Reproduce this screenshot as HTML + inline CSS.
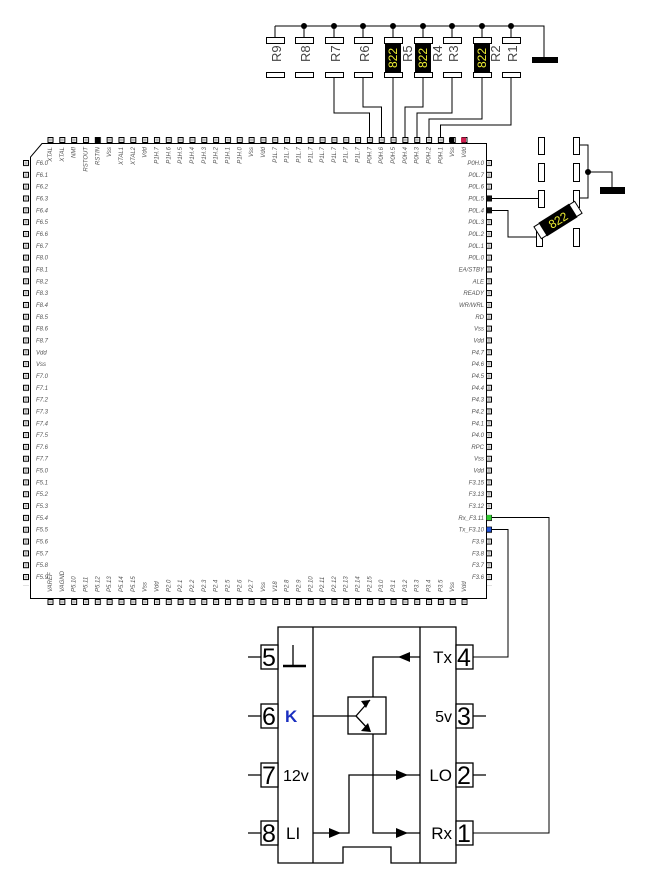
<!DOCTYPE html>
<html><head><meta charset="utf-8"><style>
html,body{margin:0;padding:0;background:#fff;}
svg{display:block;}
.l{font-family:"Liberation Sans",sans-serif;font-size:6px;font-style:italic;fill:#555;}
.big{font-family:"Liberation Sans",sans-serif;font-size:25px;fill:#000;}
.md{font-family:"Liberation Sans",sans-serif;font-size:17px;fill:#000;}
.rl{font-family:"Liberation Sans",sans-serif;font-size:13px;fill:#444;}
.y{font-family:"Liberation Sans",sans-serif;font-size:12px;fill:#ee3;}
</style></head><body>
<svg width="647" height="886" viewBox="0 0 647 886" xmlns="http://www.w3.org/2000/svg">
<defs>
<pattern id="pt" patternUnits="userSpaceOnUse" x="47.5" y="137" width="11.83" height="6"><rect x="0.5" y="0.5" width="5" height="5" fill="#fff" stroke="#000" stroke-width="1"/><rect x="1.5" y="1.5" width="3" height="3" fill="#bbb"/></pattern>
<pattern id="pb" patternUnits="userSpaceOnUse" x="47.5" y="599" width="11.83" height="6"><rect x="0.5" y="0.5" width="5" height="5" fill="#fff" stroke="#000" stroke-width="1"/><rect x="1.5" y="1.5" width="3" height="3" fill="#bbb"/></pattern>
<pattern id="pl" patternUnits="userSpaceOnUse" x="23" y="160" width="6" height="11.83"><rect x="0.5" y="0.5" width="5" height="5" fill="#fff" stroke="#000" stroke-width="1"/><rect x="1.5" y="1.5" width="3" height="3" fill="#bbb"/></pattern>
<pattern id="pr" patternUnits="userSpaceOnUse" x="486" y="160" width="6" height="11.83"><rect x="0.5" y="0.5" width="5" height="5" fill="#fff" stroke="#000" stroke-width="1"/><rect x="1.5" y="1.5" width="3" height="3" fill="#bbb"/></pattern>
</defs>
<g fill="none" stroke="#000" stroke-width="1">
<path d="M275 26 H544 V58"/>
</g>
<rect x="532" y="57" width="26" height="6" fill="#000"/>
<g fill="#000">
<circle cx="304" cy="26" r="3"/><circle cx="334" cy="26" r="3"/><circle cx="363" cy="26" r="3"/><circle cx="393" cy="26" r="3"/><circle cx="423" cy="26" r="3"/><circle cx="452" cy="26" r="3"/><circle cx="482" cy="26" r="3"/><circle cx="511" cy="26" r="3"/>
</g>
<g fill="none" stroke="#000">
<path d="M275 26V37M304 26V37M334 26V37M363 26V37M393 26V37M423 26V37M452 26V37M482 26V37M511 26V37"/>
</g>
<g fill="#000"><rect x="385" y="37" width="16" height="40"/><rect x="415" y="37" width="16" height="40"/><rect x="474" y="37" width="16" height="40"/></g>
<g fill="#fff" stroke="#000">
<rect x="266.5" y="37.5" width="18" height="6"/><rect x="295.5" y="37.5" width="18" height="6"/><rect x="325.5" y="37.5" width="18" height="6"/><rect x="354.5" y="37.5" width="18" height="6"/><rect x="384.5" y="37.5" width="18" height="6"/><rect x="414.5" y="37.5" width="18" height="6"/><rect x="443.5" y="37.5" width="18" height="6"/><rect x="473.5" y="37.5" width="18" height="6"/><rect x="502.5" y="37.5" width="18" height="6"/>
<rect x="266.5" y="72.5" width="18" height="5"/><rect x="295.5" y="72.5" width="18" height="5"/><rect x="325.5" y="72.5" width="18" height="5"/><rect x="354.5" y="72.5" width="18" height="5"/><rect x="384.5" y="72.5" width="18" height="5"/><rect x="414.5" y="72.5" width="18" height="5"/><rect x="443.5" y="72.5" width="18" height="5"/><rect x="473.5" y="72.5" width="18" height="5"/><rect x="502.5" y="72.5" width="18" height="5"/>
</g>
<g class="rl">
<text transform="translate(281,62) rotate(-90)">R9</text>
<text transform="translate(310,62) rotate(-90)">R8</text>
<text transform="translate(340,62) rotate(-90)">R7</text>
<text transform="translate(369,62) rotate(-90)">R6</text>
<text transform="translate(412,62) rotate(-90)">R5</text>
<text transform="translate(442,62) rotate(-90)">R4</text>
<text transform="translate(458,62) rotate(-90)">R3</text>
<text transform="translate(500,62) rotate(-90)">R2</text>
<text transform="translate(517,62) rotate(-90)">R1</text>
</g>
<g class="y">
<text transform="translate(397,68) rotate(-90)">822</text>
<text transform="translate(427,68) rotate(-90)">822</text>
<text transform="translate(486,68) rotate(-90)">822</text>
</g>
<g fill="none" stroke="#000">
<path d="M334 78V113H369.5V137"/>
<path d="M363 78V107H381.5V137"/>
<path d="M393 78V137"/>
<path d="M423 78V107H405V137"/>
<path d="M452 78V113H417V137"/>
<path d="M482 78V119H429V137"/>
<path d="M511 78V125H440.5V137"/>
</g>
<path d="M42 143.5H486.5V598.5H30.5V157Z" fill="none" stroke="#000"/>
<rect x="47.5" y="137" width="420" height="6" fill="url(#pt)"/>
<rect x="47.5" y="599" width="420" height="6" fill="url(#pb)"/>
<rect x="23" y="160" width="6" height="426" fill="url(#pl)"/>
<rect x="486" y="160" width="6" height="426" fill="url(#pr)"/>
<rect x="95" y="137.5" width="5" height="5" fill="#000"/>
<rect x="449" y="137.5" width="5" height="5" fill="#000"/>
<rect x="461" y="137.5" width="5" height="5" fill="#d02050"/>
<rect x="486.5" y="196" width="5" height="5" fill="#111"/>
<rect x="486.5" y="208" width="5" height="5" fill="#111"/>
<rect x="486.5" y="515" width="5" height="5" fill="#3c3"/>
<rect x="486.5" y="527" width="5" height="5" fill="#2255dd" stroke="#000" stroke-width="0.5"/>
<text class="l" x="36" y="165"><tspan x="36" dy="0">F6.0</tspan><tspan x="36" dy="11.83">F6.1</tspan><tspan x="36" dy="11.83">F6.2</tspan><tspan x="36" dy="11.83">F6.3</tspan><tspan x="36" dy="11.83">F6.4</tspan><tspan x="36" dy="11.83">F6.5</tspan><tspan x="36" dy="11.83">F6.6</tspan><tspan x="36" dy="11.83">F6.7</tspan><tspan x="36" dy="11.83">F8.0</tspan><tspan x="36" dy="11.83">F8.1</tspan><tspan x="36" dy="11.83">F8.2</tspan><tspan x="36" dy="11.83">F8.3</tspan><tspan x="36" dy="11.83">F8.4</tspan><tspan x="36" dy="11.83">F8.5</tspan><tspan x="36" dy="11.83">F8.6</tspan><tspan x="36" dy="11.83">F8.7</tspan><tspan x="36" dy="11.83">Vdd</tspan><tspan x="36" dy="11.83">Vss</tspan><tspan x="36" dy="11.83">F7.0</tspan><tspan x="36" dy="11.83">F7.1</tspan><tspan x="36" dy="11.83">F7.2</tspan><tspan x="36" dy="11.83">F7.3</tspan><tspan x="36" dy="11.83">F7.4</tspan><tspan x="36" dy="11.83">F7.5</tspan><tspan x="36" dy="11.83">F7.6</tspan><tspan x="36" dy="11.83">F7.7</tspan><tspan x="36" dy="11.83">F5.0</tspan><tspan x="36" dy="11.83">F5.1</tspan><tspan x="36" dy="11.83">F5.2</tspan><tspan x="36" dy="11.83">F5.3</tspan><tspan x="36" dy="11.83">F5.4</tspan><tspan x="36" dy="11.83">F5.5</tspan><tspan x="36" dy="11.83">F5.6</tspan><tspan x="36" dy="11.83">F5.7</tspan><tspan x="36" dy="11.83">F5.8</tspan><tspan x="36" dy="11.83">F5.9</tspan></text>
<text class="l" x="484" y="165" text-anchor="end"><tspan x="484" dy="0">P0H.0</tspan><tspan x="484" dy="11.83">P0L.7</tspan><tspan x="484" dy="11.83">P0L.6</tspan><tspan x="484" dy="11.83">P0L.5</tspan><tspan x="484" dy="11.83">P0L.4</tspan><tspan x="484" dy="11.83">P0L.3</tspan><tspan x="484" dy="11.83">P0L.2</tspan><tspan x="484" dy="11.83">P0L.1</tspan><tspan x="484" dy="11.83">P0L.0</tspan><tspan x="484" dy="11.83">EA/STBY</tspan><tspan x="484" dy="11.83">ALE</tspan><tspan x="484" dy="11.83">READY</tspan><tspan x="484" dy="11.83">WR/WRL</tspan><tspan x="484" dy="11.83">RD</tspan><tspan x="484" dy="11.83">Vss</tspan><tspan x="484" dy="11.83">Vdd</tspan><tspan x="484" dy="11.83">P4.7</tspan><tspan x="484" dy="11.83">P4.6</tspan><tspan x="484" dy="11.83">P4.5</tspan><tspan x="484" dy="11.83">P4.4</tspan><tspan x="484" dy="11.83">P4.3</tspan><tspan x="484" dy="11.83">P4.2</tspan><tspan x="484" dy="11.83">P4.1</tspan><tspan x="484" dy="11.83">P4.0</tspan><tspan x="484" dy="11.83">RPC</tspan><tspan x="484" dy="11.83">Vss</tspan><tspan x="484" dy="11.83">Vdd</tspan><tspan x="484" dy="11.83">F3.15</tspan><tspan x="484" dy="11.83">F3.13</tspan><tspan x="484" dy="11.83">F3.12</tspan><tspan x="484" dy="11.83">Rx_F3.11</tspan><tspan x="484" dy="11.83">Tx_F3.10</tspan><tspan x="484" dy="11.83">F3.9</tspan><tspan x="484" dy="11.83">F3.8</tspan><tspan x="484" dy="11.83">F3.7</tspan><tspan x="484" dy="11.83">F3.6</tspan></text>
<text class="l" transform="translate(52,147) rotate(-90)" text-anchor="end"><tspan x="0" dy="0">XTAL</tspan><tspan x="0" dy="11.83">XTAL</tspan><tspan x="0" dy="11.83">NMI</tspan><tspan x="0" dy="11.83">RSTOUT</tspan><tspan x="0" dy="11.83">RSTIN</tspan><tspan x="0" dy="11.83">Vss</tspan><tspan x="0" dy="11.83">XTAL1</tspan><tspan x="0" dy="11.83">XTAL2</tspan><tspan x="0" dy="11.83">Vdd</tspan><tspan x="0" dy="11.83">P1H.7</tspan><tspan x="0" dy="11.83">P1H.6</tspan><tspan x="0" dy="11.83">P1H.5</tspan><tspan x="0" dy="11.83">P1H.4</tspan><tspan x="0" dy="11.83">P1H.3</tspan><tspan x="0" dy="11.83">P1H.2</tspan><tspan x="0" dy="11.83">P1H.1</tspan><tspan x="0" dy="11.83">P1H.0</tspan><tspan x="0" dy="11.83">Vss</tspan><tspan x="0" dy="11.83">Vdd</tspan><tspan x="0" dy="11.83">P1L.7</tspan><tspan x="0" dy="11.83">P1L.7</tspan><tspan x="0" dy="11.83">P1L.7</tspan><tspan x="0" dy="11.83">P1L.7</tspan><tspan x="0" dy="11.83">P1L.7</tspan><tspan x="0" dy="11.83">P1L.7</tspan><tspan x="0" dy="11.83">P1L.7</tspan><tspan x="0" dy="11.83">P1L.7</tspan><tspan x="0" dy="11.83">P0H.7</tspan><tspan x="0" dy="11.83">P0H.6</tspan><tspan x="0" dy="11.83">P0H.5</tspan><tspan x="0" dy="11.83">P0H.4</tspan><tspan x="0" dy="11.83">P0H.3</tspan><tspan x="0" dy="11.83">P0H.2</tspan><tspan x="0" dy="11.83">P0H.1</tspan><tspan x="0" dy="11.83">Vss</tspan><tspan x="0" dy="11.83">Vdd</tspan></text>
<text class="l" transform="translate(52,592) rotate(-90)"><tspan x="0" dy="0">VAREF</tspan><tspan x="0" dy="11.83">VAGND</tspan><tspan x="0" dy="11.83">P5.10</tspan><tspan x="0" dy="11.83">P5.11</tspan><tspan x="0" dy="11.83">P5.12</tspan><tspan x="0" dy="11.83">P5.13</tspan><tspan x="0" dy="11.83">P5.14</tspan><tspan x="0" dy="11.83">P5.15</tspan><tspan x="0" dy="11.83">Vss</tspan><tspan x="0" dy="11.83">Vdd</tspan><tspan x="0" dy="11.83">P2.0</tspan><tspan x="0" dy="11.83">P2.1</tspan><tspan x="0" dy="11.83">P2.2</tspan><tspan x="0" dy="11.83">P2.3</tspan><tspan x="0" dy="11.83">P2.4</tspan><tspan x="0" dy="11.83">P2.5</tspan><tspan x="0" dy="11.83">P2.6</tspan><tspan x="0" dy="11.83">P2.7</tspan><tspan x="0" dy="11.83">Vss</tspan><tspan x="0" dy="11.83">V18</tspan><tspan x="0" dy="11.83">P2.8</tspan><tspan x="0" dy="11.83">P2.9</tspan><tspan x="0" dy="11.83">P2.10</tspan><tspan x="0" dy="11.83">P2.11</tspan><tspan x="0" dy="11.83">P2.12</tspan><tspan x="0" dy="11.83">P2.13</tspan><tspan x="0" dy="11.83">P2.14</tspan><tspan x="0" dy="11.83">P2.15</tspan><tspan x="0" dy="11.83">P3.0</tspan><tspan x="0" dy="11.83">P3.1</tspan><tspan x="0" dy="11.83">P3.2</tspan><tspan x="0" dy="11.83">P3.3</tspan><tspan x="0" dy="11.83">P3.4</tspan><tspan x="0" dy="11.83">P3.5</tspan><tspan x="0" dy="11.83">Vss</tspan><tspan x="0" dy="11.83">Vdd</tspan></text>
<g fill="none" stroke="#000">
<path d="M492 198.5H538"/>
<path d="M492 210.5H508V237H538"/>
<path d="M579 145H588V198H579"/>
<path d="M588 172H612V188"/>
</g>
<circle cx="588" cy="172" r="3" fill="#000"/>
<rect x="600" y="187" width="25" height="7" fill="#000"/>
<g fill="#fff" stroke="#000">
<rect x="538.5" y="137.5" width="6" height="17"/><rect x="538.5" y="163.5" width="6" height="18"/><rect x="538.5" y="190.5" width="6" height="17"/><rect x="536.5" y="228.5" width="6" height="18"/>
<rect x="573.5" y="137.5" width="6" height="17"/><rect x="573.5" y="163.5" width="6" height="18"/><rect x="573.5" y="190.5" width="6" height="17"/><rect x="573.5" y="228.5" width="6" height="18"/>
</g>
<g transform="translate(558,220) rotate(-32)">
<rect x="-24" y="-7" width="48" height="14" fill="#fff" stroke="#000"/>
<rect x="-18" y="-8" width="36" height="16" fill="#000"/>
<text class="y" x="0" y="4.5" text-anchor="middle">822</text>
</g>
<g fill="none" stroke="#000">
<path d="M492 517.5H549V833H473"/>
<path d="M492 529.5H508V657H473"/>
</g>
<g fill="none" stroke="#000" stroke-width="1.3">
<path d="M278 627H456V863H391V847H343V863H278Z"/>
<path d="M313 627V863"/>
<path d="M420 627V863"/>
<rect x="261" y="645" width="17" height="24" fill="#fff"/>
<rect x="261" y="704" width="17" height="24" fill="#fff"/>
<rect x="261" y="763" width="17" height="24" fill="#fff"/>
<rect x="261" y="821" width="17" height="24" fill="#fff"/>
<rect x="456" y="645" width="17" height="24" fill="#fff"/>
<rect x="456" y="704" width="17" height="24" fill="#fff"/>
<rect x="456" y="763" width="17" height="24" fill="#fff"/>
<rect x="456" y="821" width="17" height="24" fill="#fff"/>
<path d="M248 657H261M248 716H261M248 775H261M248 833H261M473 716H486M473 775H486"/>
<path d="M293 645V665"/>
<rect x="348" y="697" width="38" height="37"/>
<path d="M313 716H356"/>
<path d="M420 657H373V697"/>
<path d="M373 734V833H420"/>
<path d="M313 833H349V775H420"/>
<path d="M356 716L370 700M356 716L370 731"/>
</g>
<path d="M283 666H306" stroke="#000" stroke-width="2.5"/>
<g fill="#000">
<path d="M398 657L410 652V662Z"/>
<path d="M408 775L396 770V780Z"/>
<path d="M408 833L396 828V838Z"/>
<path d="M341 833L329 828V838Z"/>
<path d="M361 701L370 700L366 708Z"/>
<path d="M361 731L371 732L368 723Z"/>
</g>
<g class="big">
<text x="262" y="666">5</text><text x="262" y="725">6</text><text x="262" y="784">7</text><text x="262" y="842">8</text>
<text x="457" y="666">4</text><text x="457" y="725">3</text><text x="457" y="784">2</text><text x="457" y="842">1</text>
</g>
<g class="md">
<text x="285" y="722" fill="#1a2fc0" font-weight="bold">K</text>
<text x="283" y="781" font-size="16">12v</text>
<text x="286" y="839">LI</text>
<text x="452" y="663" text-anchor="end">Tx</text>
<text x="452" y="722" text-anchor="end" font-size="16">5v</text>
<text x="452" y="781" text-anchor="end">LO</text>
<text x="452" y="839" text-anchor="end">Rx</text>
</g>
</svg>
</body></html>
